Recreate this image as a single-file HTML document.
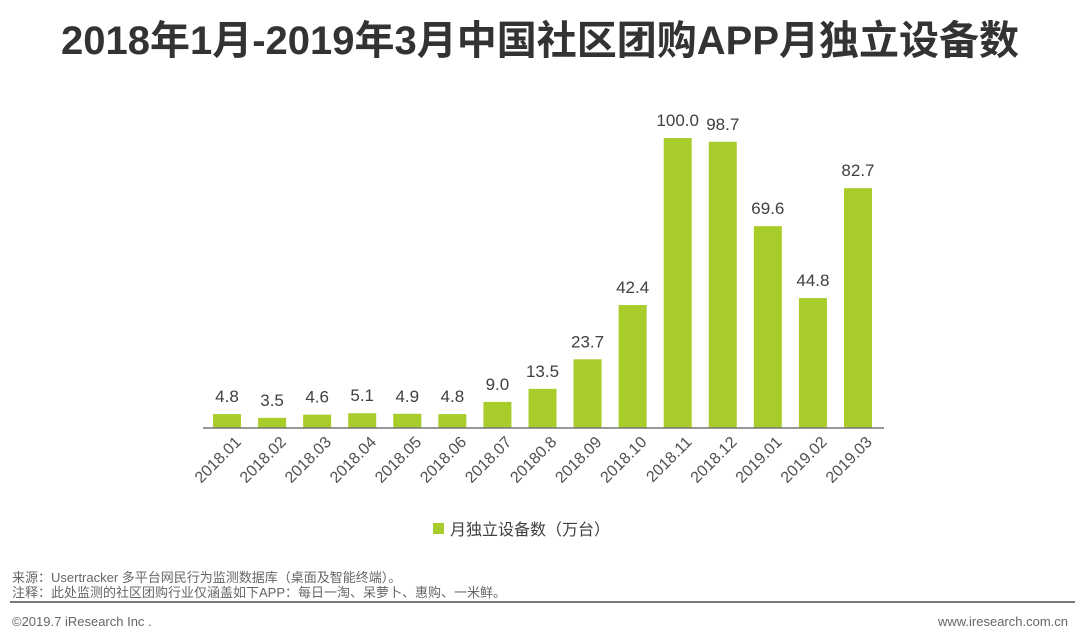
<!DOCTYPE html>
<html><head><meta charset="utf-8"><style>
body{margin:0;width:1080px;height:638px;background:#fff;overflow:hidden;font-family:"Liberation Sans","Noto Sans CJK SC",sans-serif;position:relative}
.t{position:absolute;left:0;width:1080px;text-align:center;top:8px;font-size:40px;font-weight:bold;color:#333;white-space:nowrap}
.f{position:absolute;left:12px;font-size:13px;color:#666;line-height:15px}
</style></head><body>
<div class="t">2018年1月-2019年3月中国社区团购APP月独立设备数</div>
<svg id="c" width="1080" height="560" style="position:absolute;left:0;top:0"></svg>
<div class="f" style="top:570px">来源：Usertracker 多平台网民行为监测数据库（桌面及智能终端）。</div>
<div class="f" style="top:585px">注释：此处监测的社区团购行业仅涵盖如下APP：每日一淘、呆萝卜、惠购、一米鲜。</div>
<div style="position:absolute;left:10px;top:601px;width:1065px;height:2px;background:#777"></div>
<div class="f" style="top:614px">©2019.7 iResearch Inc .</div>
<div class="f" style="top:614px;left:auto;right:12px">www.iresearch.com.cn</div>
<script>
const categories=["2018.01","2018.02","2018.03","2018.04","2018.05","2018.06","2018.07","20180.8","2018.09","2018.10","2018.11","2018.12","2019.01","2019.02","2019.03"];
const values=[4.8,3.5,4.6,5.1,4.9,4.8,9.0,13.5,23.7,42.4,100.0,98.7,69.6,44.8,82.7];
const svg=document.getElementById('c');const NS='http://www.w3.org/2000/svg';
const base=428,scale=2.9,x0=227,step=45.07,bw=28;
const xs=i=>x0+i*step, ys=v=>base-v*scale;
function mk(t,a){const e=document.createElementNS(NS,t);for(const k in a)e.setAttribute(k,a[k]);svg.appendChild(e);return e;}
values.forEach((v,i)=>{
 const r=mk('rect',{x:xs(i)-bw/2,y:ys(v),width:bw,height:base-ys(v),fill:'#a8cc2a'});
 
 
 const l=mk('text',{x:xs(i),y:ys(v)-12,'text-anchor':'middle','font-size':17,fill:'#404040'});
 l.textContent=v.toFixed(1);
 
 
 const c=mk('text',{x:xs(i)+15,y:base+15,'text-anchor':'end','font-size':16,fill:'#505050',transform:`rotate(-45 ${xs(i)+15} ${base+15})`});
 c.textContent=categories[i];
 
 
});
const ax=mk('line',{x1:203,x2:884,y1:base,y2:base,stroke:'#777','stroke-width':1.5});


const lg=mk('rect',{x:433,y:523,width:11,height:11,fill:'#a8cc2a'});


const lt=mk('text',{x:450,y:535,'font-size':16,fill:'#404040'});lt.textContent='月独立设备数（万台）';


</script>
</body></html>
